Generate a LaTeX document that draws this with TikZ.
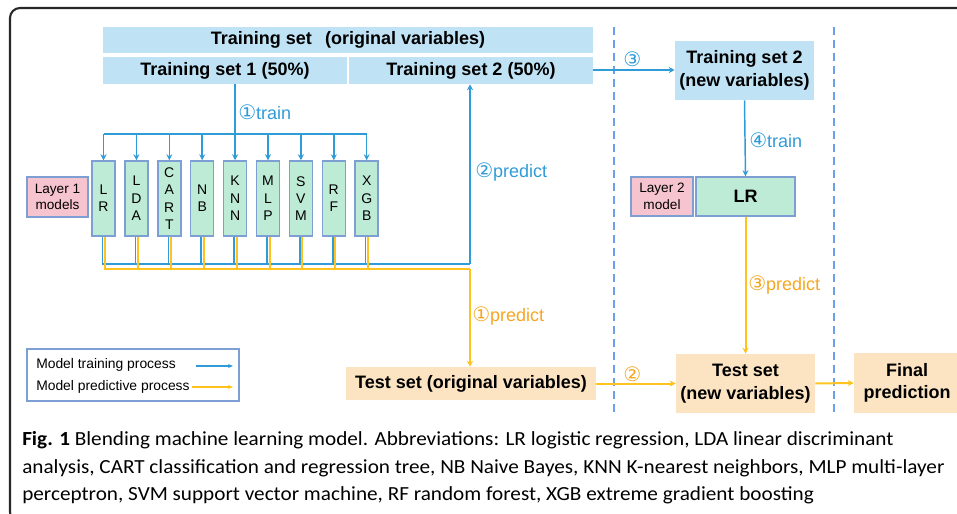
\documentclass[tikz,border=0pt]{standalone}
\usepackage{fontspec}
\setmainfont{Liberation Sans}
\newfontfamily\cfont{DejaVu Sans}
\newfontfamily\capfont[FakeStretch=1.06]{Carlito}
\usetikzlibrary{arrows.meta}
\newcommand\pxu{0.75pt}
\newcommand\cnum[1]{{\cfont\fontsize{15pt}{16pt}\selectfont #1}}
\definecolor{tsblue}{RGB}{191,227,245}
\definecolor{mgreen}{RGB}{190,235,214}
\definecolor{mpink}{RGB}{246,196,206}
\definecolor{peach}{RGB}{252,228,195}
\definecolor{bord}{RGB}{125,159,211}
\definecolor{ablue}{RGB}{47,155,216}
\definecolor{ayel}{RGB}{255,195,31}
\definecolor{torange}{RGB}{245,166,35}
\definecolor{dashc}{RGB}{108,159,235}
\definecolor{framec}{RGB}{40,40,40}
\begin{document}
\begin{tikzpicture}[x=0.75pt,y=-0.75pt,
  bigtxt/.style={font=\fontsize{13.5pt}{17pt}\selectfont\bfseries},
  tsbox/.style={fill=tsblue,inner sep=0pt,bigtxt,align=center},
  pbox/.style={fill=peach,inner sep=0pt,bigtxt,align=center},
  mbox/.style={fill=mgreen,draw=bord,line width=1.1pt,inner sep=0pt,minimum width=23*\pxu,minimum height=75*\pxu,align=center,font=\fontsize{10.5pt}{13pt}\selectfont},
  lbox/.style={fill=mpink,draw=bord,line width=1.1pt,inner sep=0pt,align=center,font=\fontsize{10.2pt}{12.5pt}\selectfont},
  bl/.style={draw=ablue,line width=1.1pt},
  yl/.style={draw=ayel,line width=1.5pt},
  tip/.style={-{Stealth[length=6*\pxu,width=6*\pxu]}},
  blab/.style={text=ablue,inner sep=0pt,anchor=west,font=\fontsize{13.5pt}{16pt}\selectfont},
  olab/.style={text=torange,inner sep=0pt,anchor=west,font=\fontsize{13.5pt}{16pt}\selectfont},
  dsh/.style={draw=dashc,line width=1.1pt,dash pattern=on 6pt off 3.75pt},
  captxt/.style={inner sep=0pt,anchor=west,font=\capfont\fontsize{15pt}{20pt}\selectfont}
]
\clip (0,0) rectangle (957,514);
% outer frame
\draw[framec,line width=1.6pt,rounded corners=10*\pxu] (10,8) rectangle (990,522);

% training set boxes
\node[tsbox,minimum width=490*\pxu,minimum height=26*\pxu] (TSO) at (348,40) {Training set\hspace{10pt}(original variables)};
\node[tsbox,minimum width=244*\pxu,minimum height=27*\pxu] (TS1) at (225,70.5) {Training set 1 (50\%)};
\node[tsbox,minimum width=244*\pxu,minimum height=27*\pxu] (TS2) at (471,70.5) {Training set 2 (50\%)};

% layer 1 models
\node[lbox,minimum width=61*\pxu,minimum height=40*\pxu] (L1) at (57.5,197) {Layer 1\\models};
\node[mbox] (LR)   at (103.5,198.5) {L\\R};
\node[mbox] (LDA)  at (136.4,198.5) {L\\D\\A};
\node[mbox] (CART) at (169.3,198.5) {C\\A\\R\\T};
\node[mbox] (NB)   at (202.2,198.5) {N\\B};
\node[mbox] (KNN)  at (235.1,198.5) {K\\N\\N};
\node[mbox] (MLP)  at (268.0,198.5) {M\\L\\P};
\node[mbox] (SVM)  at (300.9,198.5) {S\\V\\M};
\node[mbox] (RF)   at (333.8,198.5) {R\\F};
\node[mbox] (XGB)  at (366.7,198.5) {X\\G\\B};

% test set boxes
\node[pbox,minimum width=250*\pxu,minimum height=33*\pxu] (TO) at (471,383.5) {Test set (original variables)};
\node[pbox,minimum width=139*\pxu,minimum height=59*\pxu] (TN) at (745.5,383.5) {Test set\\(new variables)};
\node[pbox,minimum width=106*\pxu,minimum height=60*\pxu] (FP) at (907,383) {Final\\prediction};

% right side
\node[tsbox,minimum width=139*\pxu,minimum height=59*\pxu] (TSN) at (744.5,70.5) {Training set 2\\(new variables)};
\node[mbox,minimum width=99*\pxu,minimum height=39*\pxu,font=\fontsize{13.5pt}{16pt}\selectfont\bfseries] (LR2) at (745.5,196.5) {LR};
\node[lbox,minimum width=62*\pxu,minimum height=39*\pxu] (L2) at (662,196.5) {Layer 2\\model};

% dashed separators
\coordinate (d1t) at (614,27); \coordinate (d1b) at (614,413);
\coordinate (d2t) at (834,27); \coordinate (d2b) at (834,413);
\draw[dsh] (d1t) -- (d1b);
\draw[dsh] (d2t) -- (d2b);

% training connectors
\coordinate (tbus) at (235,134);
\draw[bl] (TS1.south -| tbus) -- (tbus);
\draw[bl] (tbus -| LR.north) -- (tbus -| XGB.north);
\foreach \m in {LR,LDA,CART,NB,KNN,MLP,SVM,RF,XGB}{
  \draw[bl,tip] (tbus -| \m.north) -- (\m.north);
}
\node[blab] (lab1) at (238,112) {\cnum{①}train};

% predict connectors
\coordinate (bblue) at (470,264);
\coordinate (byel) at (470,268.5);
\foreach \m in {LR,LDA,CART,NB,KNN,MLP,SVM,RF,XGB}{
  \draw[bl] ([xshift=-1*\pxu]\m.south) |- (bblue);
}
\foreach \m in {LR,LDA,CART,NB,KNN,MLP,SVM,RF,XGB}{
  \draw[yl] ([xshift=1.5*\pxu]\m.south) |- (byel);
}
\draw[bl,tip] (bblue) -- (bblue |- TS2.south);
\draw[yl,tip] (byel) -- (byel |- TO.north);
\node[blab] (lab2) at (475,172) {\cnum{②}predict};
\node[olab] (lab3) at (472,316) {\cnum{①}predict};

% right side connectors
\draw[bl,tip] (TS2.east |- 0,70) -- (TSN.west |- 0,70);
\node[blab] (lab4) at (623,59) {\cnum{③}};
\draw[bl,tip] (TSN.south) -- (LR2.north);
\node[blab] (lab5) at (749,140) {\cnum{④}train};
\draw[yl,tip] (LR2.south) -- (TN.north);
\node[olab] (lab6) at (748,285) {\cnum{③}predict};
\draw[yl,tip] (TO.east) -- (TN.west);
\node[olab] (lab7) at (623,374) {\cnum{②}};
\draw[yl,tip] (TN.east) -- (FP.west);

% legend
\node[draw=bord,line width=1.1pt,minimum width=212*\pxu,minimum height=52*\pxu,inner sep=0pt] (LEG) at (133,375) {};
\node[inner sep=0pt,anchor=west,font=\fontsize{10.4pt}{12pt}\selectfont] (lt1) at (36,365) {Model training process};
\node[inner sep=0pt,anchor=west,font=\fontsize{10.4pt}{12pt}\selectfont] (lt2) at (36,387) {Model predictive process};
\coordinate (la1) at (196,366); \coordinate (lb1) at (233,366);
\coordinate (la2) at (192,387); \coordinate (lb2) at (233,387);
\draw[bl,line width=0.9pt,-{Stealth[length=5*\pxu,width=4*\pxu]}] (la1) -- (lb1);
\draw[yl,line width=1.2pt,-{Stealth[length=5*\pxu,width=4*\pxu]}] (la2) -- (lb2);

% caption
\node[captxt] (cap1) at (22,440) {\textbf{Fig. 1} Blending machine learning model. Abbreviations: LR logistic regression, LDA linear discriminant};
\node[captxt] (cap2) at (22,468) {analysis, CART classification and regression tree, NB Naive Bayes, KNN K-nearest neighbors, MLP multi-layer};
\node[captxt] (cap3) at (22,495) {perceptron, SVM support vector machine, RF random forest, XGB extreme gradient boosting};
\end{tikzpicture}
\end{document}
